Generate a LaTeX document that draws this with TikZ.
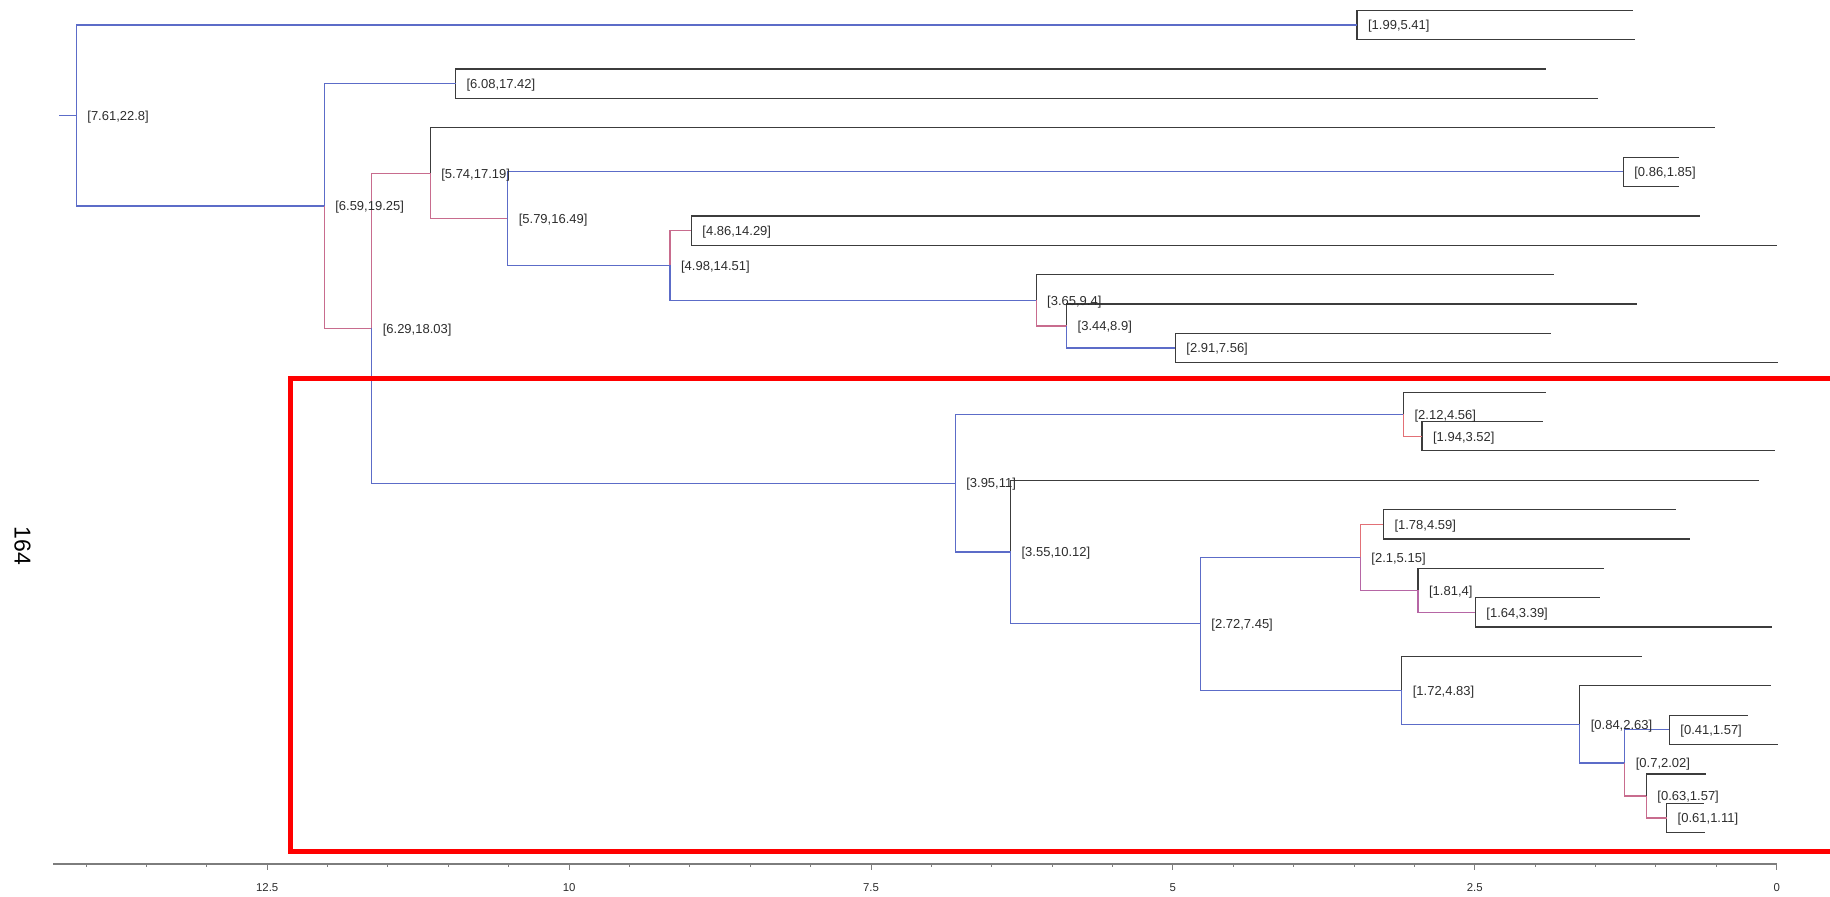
\documentclass[tikz,border=0pt]{standalone}
\usepackage{fontspec}
\setmainfont{Liberation Sans}
\definecolor{brblue}{RGB}{92,108,200}
\definecolor{brpink}{RGB}{200,108,142}
\definecolor{brred}{RGB}{226,112,118}
\definecolor{brpurple}{RGB}{182,102,165}
\definecolor{leafc}{RGB}{60,60,60}
\definecolor{txtc}{RGB}{45,45,45}
\definecolor{axisc}{RGB}{125,125,125}
\tikzset{
  br/.style={line width=0.6pt},
  blu/.style={br,draw=brblue},
  pnk/.style={br,draw=brpink},
  rdd/.style={br,draw=brred},
  prp/.style={br,draw=brpurple},
  leaf/.style={br,draw=leafc},
  lab/.style={anchor=west,inner sep=0pt,xshift=5.35pt,yshift=-0.75pt,
    text=txtc,font=\fontsize{6.5}{7}\selectfont},
  ticklab/.style={inner sep=0pt,text=txtc,font=\fontsize{5.7}{6}\selectfont},
}
\begin{document}
\begin{tikzpicture}[x=0.5pt,y=-0.5pt]
\useasboundingbox (0,0) rectangle (1830,896);

% ---- internal nodes (junction points) ----
\coordinate (s0) at (59.3,115.47);
\coordinate (R)  at (76.3,115.47);
\coordinate (A)  at (1357,24.99);
\coordinate (B)  at (324.2,205.94);
\coordinate (C)  at (455.5,83.73);
\coordinate (D)  at (371.7,328.15);
\coordinate (E)  at (430.2,173.2);
\coordinate (F)  at (507.7,218.65);
\coordinate (G)  at (1623.2,171.84);
\coordinate (H)  at (670,265.45);
\coordinate (I)  at (691.3,230.58);
\coordinate (J)  at (1036.1,300.33);
\coordinate (K)  at (1066.6,326.03);
\coordinate (L)  at (1175.3,348.06);
\coordinate (M)  at (955.2,483.09);
\coordinate (N)  at (1403.5,414.14);
\coordinate (O)  at (1422,436.17);
\coordinate (P)  at (1010.5,552.04);
\coordinate (Q)  at (1200.3,623.86);
\coordinate (S)  at (1360.3,557.32);
\coordinate (T)  at (1383.4,524.28);
\coordinate (U)  at (1418,590.36);
\coordinate (V)  at (1475.3,612.39);
\coordinate (W)  at (1401.7,690.4);
\coordinate (X)  at (1579.7,724.36);
\coordinate (Y)  at (1624.7,762.91);
\coordinate (Z)  at (1669.3,729.87);
\coordinate (AA) at (1646.3,795.95);
\coordinate (AB) at (1666.6,817.98);

% ---- leaf ends ----
\coordinate (l0)  at (1633,10.3);
\coordinate (l1)  at (1635,39.67);
\coordinate (l2)  at (1546,69.04);
\coordinate (l3)  at (1598,98.41);
\coordinate (l4)  at (1715,127.78);
\coordinate (l5)  at (1678.6,157.15);
\coordinate (l6)  at (1678.6,186.52);
\coordinate (l7)  at (1700.3,215.89);
\coordinate (l8)  at (1777.4,245.26);
\coordinate (l9)  at (1554,274.63);
\coordinate (l10) at (1637,304.0);
\coordinate (l11) at (1551,333.37);
\coordinate (l12) at (1778,362.74);
\coordinate (l13) at (1546,392.11);
\coordinate (l14) at (1543,421.48);
\coordinate (l15) at (1775,450.85);
\coordinate (l16) at (1758.5,480.22);
\coordinate (l17) at (1675.7,509.59);
\coordinate (l18) at (1690.2,538.96);
\coordinate (l19) at (1604,568.33);
\coordinate (l20) at (1600,597.7);
\coordinate (l21) at (1772.3,627.07);
\coordinate (l22) at (1642.4,656.44);
\coordinate (l23) at (1771.3,685.81);
\coordinate (l24) at (1747.6,715.18);
\coordinate (l25) at (1778,744.55);
\coordinate (l26) at (1706,773.92);
\coordinate (l27) at (1704.4,803.29);
\coordinate (l28) at (1705.4,832.66);

% ---- leaf branches ----
\foreach \n/\a/\b in {A/l0/l1, C/l2/l3, G/l5/l6, I/l7/l8, L/l11/l12,
                      O/l14/l15, T/l17/l18, V/l20/l21, Z/l24/l25, AB/l27/l28}
  {\draw[leaf] (\n) |- (\a); \draw[leaf] (\n) |- (\b);}
\foreach \n/\a in {E/l4, J/l9, K/l10, N/l13, P/l16, U/l19, W/l22, X/l23, AA/l26}
  {\draw[leaf] (\n) |- (\a);}

% ---- inner branches ----
\draw[blu] (s0) -- (R);
\draw[blu] (R) |- (A);
\draw[blu] (R) |- (B);
\draw[blu] (B) |- (C);
\draw[pnk] (B) |- (D);
\draw[pnk] (D) |- (E);
\draw[blu] (D) |- (M);
\draw[pnk] (E) |- (F);
\draw[blu] (F) |- (G);
\draw[blu] (F) |- (H);
\draw[pnk] (H) |- (I);
\draw[blu] (H) |- (J);
\draw[pnk] (J) |- (K);
\draw[blu] (K) |- (L);
\draw[blu] (M) |- (N);
\draw[blu] (M) |- (P);
\draw[rdd] (N) |- (O);
\draw[blu] (P) |- (Q);
\draw[blu] (Q) |- (S);
\draw[blu] (Q) |- (W);
\draw[rdd] (S) |- (T);
\draw[prp] (S) |- (U);
\draw[prp] (U) |- (V);
\draw[blu] (W) |- (X);
\draw[blu] (X) |- (Y);
\draw[blu] (Y) |- (Z);
\draw[pnk] (Y) |- (AA);
\draw[pnk] (AA) |- (AB);

% ---- node labels ----
\node[lab] (tR)  at (R)  {[7.61,22.8]};
\node[lab] (tA)  at (A)  {[1.99,5.41]};
\node[lab] (tB)  at (B)  {[6.59,19.25]};
\node[lab] (tC)  at (C)  {[6.08,17.42]};
\node[lab] (tD)  at (D)  {[6.29,18.03]};
\node[lab] (tE)  at (E)  {[5.74,17.19]};
\node[lab] (tF)  at (F)  {[5.79,16.49]};
\node[lab] (tG)  at (G)  {[0.86,1.85]};
\node[lab] (tH)  at (H)  {[4.98,14.51]};
\node[lab] (tI)  at (I)  {[4.86,14.29]};
\node[lab] (tJ)  at (J)  {[3.65,9.4]};
\node[lab] (tK)  at (K)  {[3.44,8.9]};
\node[lab] (tL)  at (L)  {[2.91,7.56]};
\node[lab] (tM)  at (M)  {[3.95,11]};
\node[lab] (tN)  at (N)  {[2.12,4.56]};
\node[lab] (tO)  at (O)  {[1.94,3.52]};
\node[lab] (tP)  at (P)  {[3.55,10.12]};
\node[lab] (tQ)  at (Q)  {[2.72,7.45]};
\node[lab] (tS)  at (S)  {[2.1,5.15]};
\node[lab] (tT)  at (T)  {[1.78,4.59]};
\node[lab] (tU)  at (U)  {[1.81,4]};
\node[lab] (tV)  at (V)  {[1.64,3.39]};
\node[lab] (tW)  at (W)  {[1.72,4.83]};
\node[lab] (tX)  at (X)  {[0.84,2.63]};
\node[lab] (tY)  at (Y)  {[0.7,2.02]};
\node[lab] (tZ)  at (Z)  {[0.41,1.57]};
\node[lab] (tAA) at (AA) {[0.63,1.57]};
\node[lab] (tAB) at (AB) {[0.61,1.11]};

% ---- highlight frame ----
\draw[red,line width=2.25pt] (1840,378.7) -- (290.7,378.7) -- (290.7,851.7) -- (1840,851.7);

% ---- distance axis ----
\draw[axisc,line width=1pt] (53,864) -- (1776.7,864);
\foreach \k in {0,...,28}
  \draw[axisc,line width=0.5pt] ({1776.7-60.38*\k},864) -- ++(0,3);
\foreach \k/\t in {0/0,5/2.5,10/5,15/7.5,20/10,25/12.5}
  {\draw[axisc,line width=0.5pt] ({1776.7-60.38*\k},864) -- ++(0,6);
   \node[ticklab] (ax\k) at ({1776.7-60.38*\k},887.5) {\t};}

% ---- side label ----
\node[rotate=-90,inner sep=0pt,font=\fontsize{11.5}{12}\selectfont] (side) at (22.5,546) {164};
\end{tikzpicture}
\end{document}
